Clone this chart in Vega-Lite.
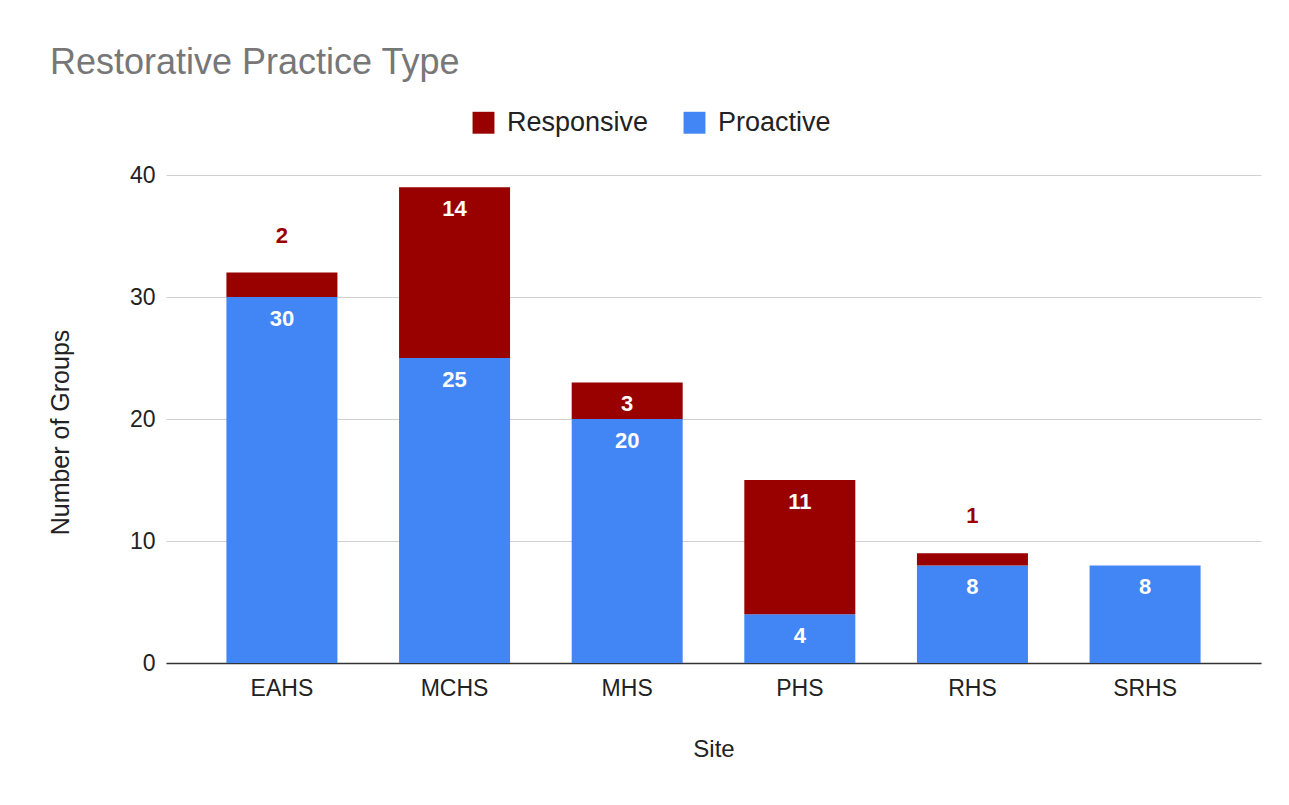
{
  "$schema": "https://vega.github.io/schema/vega-lite/v6.json",
  "width": 1095,
  "height": 488,
  "autosize": {"type": "none"},
  "padding": {"left": 166, "top": 175, "right": 28, "bottom": 142},
  "background": "white",
  "config": {
    "view": {"stroke": null},
    "font": "Liberation Sans"
  },
  "title": {
    "text": "Restorative Practice Type",
    "anchor": "start",
    "frame": "group",
    "dx": -116,
    "offset": 27,
    "fontSize": 36,
    "fontWeight": "normal",
    "color": "#777777",
    "font": "Liberation Sans"
  },
  "data": {
    "values": [
      {"site": "EAHS", "type": "Proactive", "value": 30},
      {"site": "EAHS", "type": "Responsive", "value": 2},
      {"site": "MCHS", "type": "Proactive", "value": 25},
      {"site": "MCHS", "type": "Responsive", "value": 14},
      {"site": "MHS", "type": "Proactive", "value": 20},
      {"site": "MHS", "type": "Responsive", "value": 3},
      {"site": "PHS", "type": "Proactive", "value": 4},
      {"site": "PHS", "type": "Responsive", "value": 11},
      {"site": "RHS", "type": "Proactive", "value": 8},
      {"site": "RHS", "type": "Responsive", "value": 1},
      {"site": "SRHS", "type": "Proactive", "value": 8}
    ]
  },
  "transform": [
    {"stack": "value", "groupby": ["site"], "sort": [{"field": "type", "order": "ascending"}], "as": ["v0", "v1"]}
  ],
  "encoding": {
    "x": {
      "field": "site",
      "type": "nominal",
      "sort": null,
      "scale": {"paddingInner": 0.357, "paddingOuter": 0.35},
      "axis": {
        "title": "Site",
        "labelAngle": 0,
        "ticks": false,
        "domainColor": "#333333",
        "domainWidth": 1.5,
        "labelPadding": 14,
        "labelFontSize": 23,
        "labelColor": "#222222",
        "titleFontSize": 24,
        "titleFontWeight": "normal",
        "titleColor": "#222222",
        "titlePadding": 37
      }
    }
  },
  "layer": [
    {
      "mark": {"type": "bar"},
      "encoding": {
        "y": {
          "field": "v1",
          "type": "quantitative",
          "scale": {"domain": [0, 40], "nice": false},
          "axis": {
            "title": "Number of Groups",
            "values": [0, 10, 20, 30, 40],
            "domain": false,
            "ticks": false,
            "gridColor": "#d0d0d0",
            "labelPadding": 11,
            "labelFontSize": 23,
            "labelColor": "#222222",
            "titleFontSize": 25,
            "titleFontWeight": "normal",
            "titleColor": "#222222",
            "titlePadding": 56,
            "titleY": 257
          }
        },
        "y2": {"field": "v0"},
        "color": {
          "field": "type",
          "type": "nominal",
          "scale": {"domain": ["Responsive", "Proactive"], "range": ["#990000", "#4285F4"]},
          "legend": {
            "title": null,
            "orient": "none",
            "direction": "horizontal",
            "legendX": 304,
            "legendY": -66,
            "symbolType": "square",
            "symbolSize": 480,
            "symbolStrokeWidth": 0,
            "symbolOpacity": 1,
            "labelFontSize": 27,
            "labelColor": "#222222",
            "labelOffset": 10,
            "columnPadding": 32
          }
        }
      }
    },
    {
      "transform": [{"filter": "datum.value >= 3"}],
      "mark": {"type": "text", "dy": 22, "color": "white", "fontWeight": "bold", "fontSize": 22, "baseline": "middle"},
      "encoding": {
        "y": {"field": "v1", "type": "quantitative"},
        "text": {"field": "value", "type": "quantitative"}
      }
    },
    {
      "transform": [{"filter": "datum.value < 3"}],
      "mark": {"type": "text", "dy": -37, "color": "#990000", "fontWeight": "bold", "fontSize": 22, "baseline": "middle"},
      "encoding": {
        "y": {"field": "v1", "type": "quantitative"},
        "text": {"field": "value", "type": "quantitative"}
      }
    }
  ]
}
